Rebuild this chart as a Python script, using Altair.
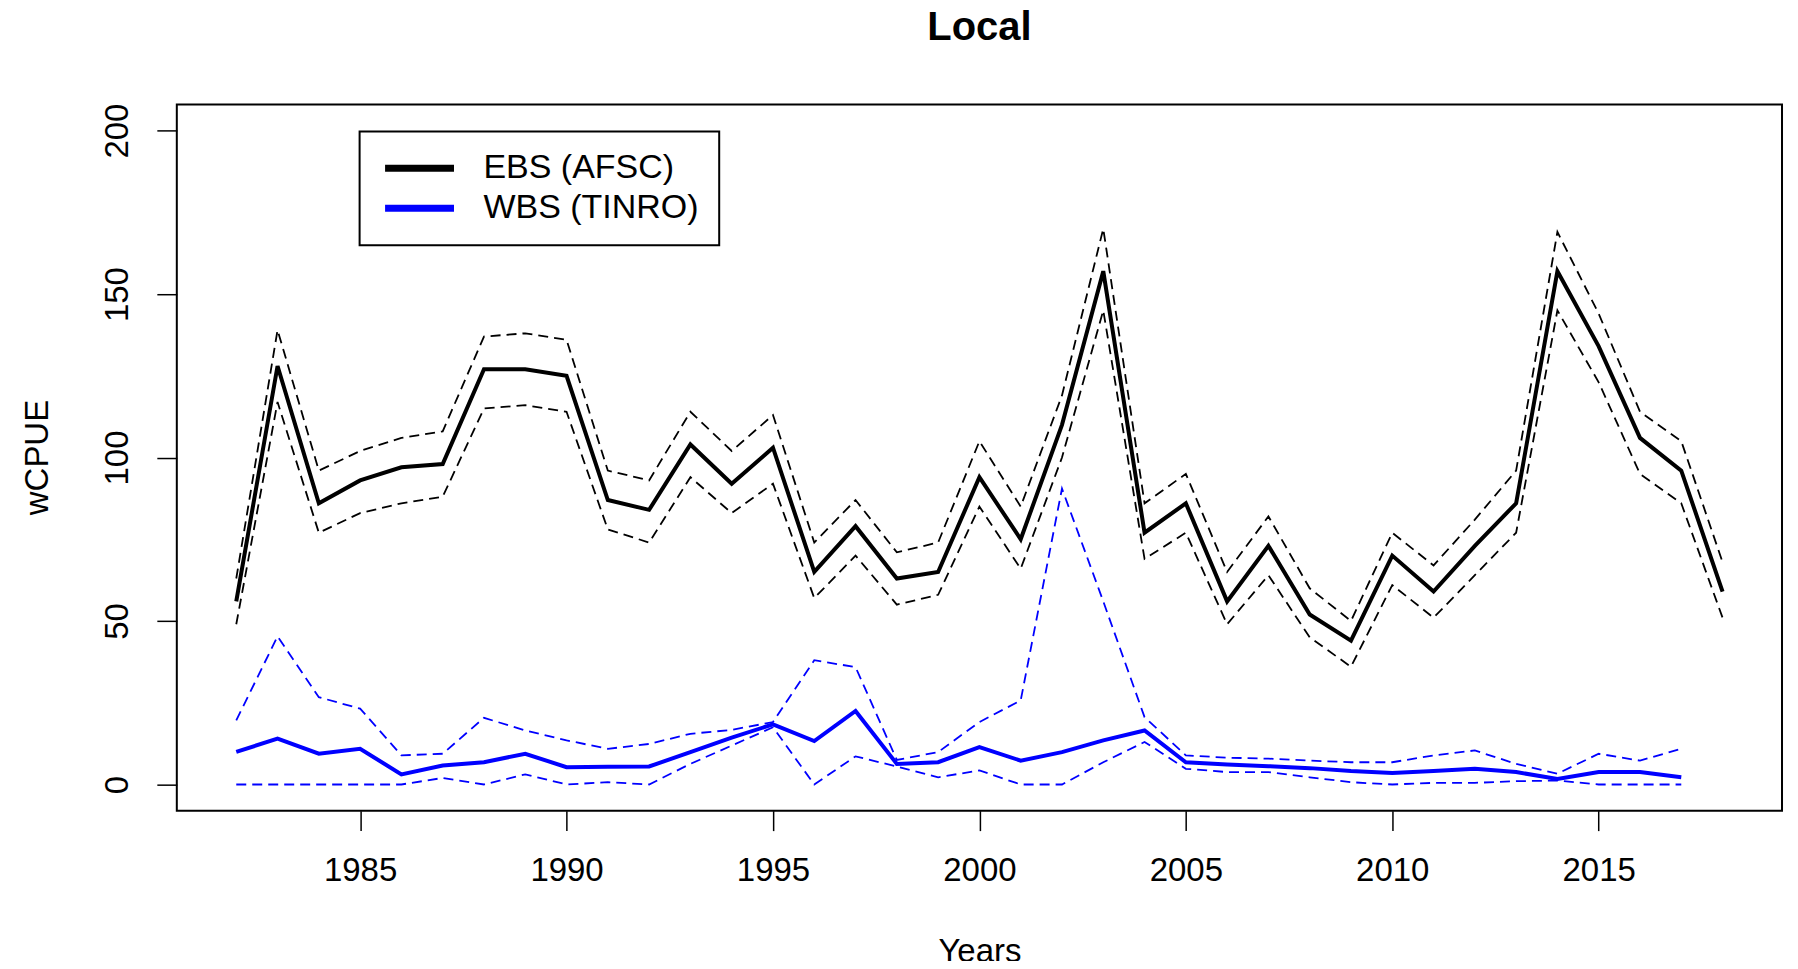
import altair as alt
import pandas as pd

years = [1982, 1983, 1984, 1985, 1986, 1987, 1988, 1989, 1990, 1991, 1992, 1993,
         1994, 1995, 1996, 1997, 1998, 1999, 2000, 2001, 2002, 2003, 2004, 2005,
         2006, 2007, 2008, 2009, 2010, 2011, 2012, 2013, 2014, 2015, 2016, 2017, 2018]

ebs_mean = [56, 128, 86, 93, 97, 98, 127, 127, 125, 87, 84, 104,
            92, 103, 65, 79, 63, 65, 94, 75, 110, 157, 77, 86,
            56, 73, 52, 44, 70, 59, 73, 86, 157, 134, 106, 96, 59]
ebs_upper = [63, 139, 96, 102, 106, 108, 137, 138, 136, 96, 93, 114,
             102, 113, 74, 87, 71, 74, 105, 85, 119, 170, 86, 95,
             65, 82, 60, 50, 77, 67, 81, 96, 169, 144, 114, 105, 68]
ebs_lower = [49, 117, 77, 83, 86, 88, 115, 116, 114, 78, 74, 94,
             83, 92, 57, 70, 55, 58, 85, 66, 100, 145, 69, 77,
             49, 64, 45, 36, 61, 51, 64, 77, 145, 123, 95, 86, 51]

wbs_years = [1982, 1983, 1984, 1985, 1986, 1987, 1988, 1989, 1990, 1991, 1992, 1993,
             1994, 1995, 1996, 1997, 1998, 1999, 2000, 2001, 2002, 2003, 2004, 2005,
             2006, 2007, 2008, 2009, 2010, 2011, 2012, 2013, 2014, 2015, 2016, 2017]
wbs_mean = [10, 14, 9.4, 10.9, 3.1, 5.8, 6.8, 9.4, 5.3, 5.4, 5.5, 9.9,
            14.3, 18.4, 13.3, 22.5, 6.3, 6.8, 11.4, 7.3, 9.9, 13.5, 16.5, 6.8,
            6.1, 5.6, 5.0, 4.1, 3.5, 4.1, 4.8, 3.8, 1.7, 3.8, 3.8, 2.2]
wbs_upper = [19.6, 45.3, 26.7, 23.2, 8.9, 9.4, 20.4, 16.5, 13.5, 10.9, 12.4, 15.5,
             16.7, 19.1, 38, 35.9, 7.5, 9.9, 19.1, 25.7, 90.5, 56, 20.6, 8.9,
             8.2, 7.9, 7.3, 6.8, 6.8, 8.9, 10.4, 6.3, 3.3, 9.4, 7.3, 10.9]
wbs_lower = [0, 0, 0, 0, 0, 2, 0, 3.1, 0, 0.7, 0, 6.3,
             11.9, 17.5, 0, 8.6, 5.5, 2.2, 4.3, 0, 0, 6.8, 13, 4.8,
             3.8, 3.8, 2.2, 0.7, 0, 0.5, 0.5, 1, 1.2, 0, 0, 0]

series_names = ["EBS (AFSC)", "WBS (TINRO)"]
series_colors = ["#000000", "#0000ff"]
x_ticks = [1985, 1990, 1995, 2000, 2005, 2010, 2015]
y_ticks = [0, 50, 100, 150, 200]

rows = []
for i, yr in enumerate(years):
    rows.append({"Year": yr, "Series": series_names[0], "Mean": ebs_mean[i],
                 "Upper": ebs_upper[i], "Lower": ebs_lower[i]})
for i, yr in enumerate(wbs_years):
    rows.append({"Year": yr, "Series": series_names[1], "Mean": wbs_mean[i],
                 "Upper": wbs_upper[i], "Lower": wbs_lower[i]})
df = pd.DataFrame(rows)

FONT = "Liberation Sans"

x_enc = alt.X(
    "Year:Q",
    scale=alt.Scale(domain=[1980.56, 2019.44], nice=False, zero=False),
    axis=alt.Axis(values=x_ticks, format="d", title="Years", grid=False, domain=False,
                  tickSize=20, tickWidth=1.5, tickColor="black",
                  labelFontSize=33, labelFont=FONT, labelColor="black", labelPadding=24,
                  labelFlush=False, labelOverlap=False,
                  titleFontSize=33, titleFont=FONT, titleFontWeight="normal",
                  titleColor="black", titleBaseline="alphabetic", titleY=151),
)

y_axis = alt.Axis(values=y_ticks, title="wCPUE", grid=False, domain=False,
                  tickSize=20, tickWidth=1.5, tickColor="black",
                  labelFontSize=33, labelFont=FONT, labelColor="black", labelPadding=22,
                  labelAngle=270, labelAlign="center", labelBaseline="bottom",
                  labelFlush=False, labelOverlap=False,
                  titleFontSize=33, titleFont=FONT, titleFontWeight="normal",
                  titleColor="black", titleAngle=270, titleAlign="center",
                  titleBaseline="bottom", titleX=-122, titleY=353)
y_scale = alt.Scale(domain=[-8, 208], nice=False, zero=False)

color_enc = alt.Color(
    "Series:N",
    scale=alt.Scale(domain=series_names, range=series_colors),
    legend=alt.Legend(orient="none", legendX=183, legendY=27, title=None,
                      symbolType="M-3,0H3", symbolSize=529, symbolStrokeWidth=7,
                      symbolOffset=23,
                      labelFontSize=34, labelFont=FONT, labelColor="black", labelLimit=0,
                      padding=20, rowPadding=6, labelOffset=47, strokeColor="black"),
)

base = alt.Chart(df)
upper = base.mark_line(strokeWidth=1.8, strokeDash=[10, 6]).encode(
    x=x_enc, y=alt.Y("Upper:Q", scale=y_scale, axis=y_axis), color=color_enc,
    detail="Series:N")
lower = base.mark_line(strokeWidth=1.8, strokeDash=[10, 6]).encode(
    x=x_enc, y=alt.Y("Lower:Q", scale=y_scale, axis=y_axis), color=color_enc,
    detail="Series:N")
mean = base.mark_line(strokeWidth=4, strokeJoin="miter").encode(
    x=x_enc, y=alt.Y("Mean:Q", scale=y_scale, axis=y_axis), color=color_enc,
    detail="Series:N")

chart = alt.layer(upper, lower, mean).properties(
    width=1607, height=707,
    title=alt.TitleParams("Local", fontSize=40, fontWeight="bold", font=FONT,
                          anchor="middle", frame="group", offset=55, color="black"),
    autosize=alt.AutoSizeParams(type="none"),
    padding={"left": 169, "top": 96, "right": 8, "bottom": 150},
).configure_view(stroke="black", strokeWidth=2).configure_legend(strokeWidth=2)

chart.save("out.html", embed_options={"renderer": "svg", "actions": False})
